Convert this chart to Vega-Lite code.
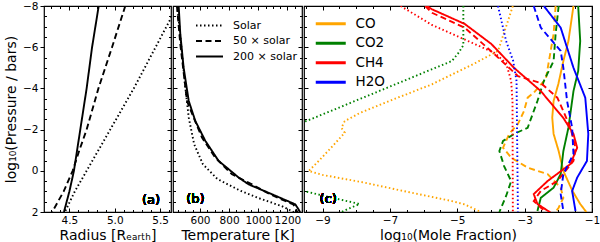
{
"$schema": "https://vega.github.io/schema/vega-lite/v6.json",
"padding": {"left": 3, "top": 0, "right": 0, "bottom": 0},
"spacing": 2,
"bounds": "flush",
"config": {
 "font": "DejaVu Sans",
 "view": {"stroke": "black", "strokeWidth": 1.2},
 "axis": {"domain": false, "grid": false, "tickColor": "black", "tickWidth": 1, "labelColor": "black", "labelFontSize": 10.5, "labelFont": "DejaVu Sans", "titleFont": "DejaVu Sans", "titleFontSize": 14, "titleFontWeight": "normal", "titleColor": "black", "labelFlush": false, "labelOverlap": false}
},
"resolve": {"scale": {"color": "independent", "strokeDash": "independent"}, "legend": {"color": "independent", "strokeDash": "independent"}},
"datasets": {
 "ra": [
  {"m":"200 × solar","P":-8,"R":4.823},{"m":"200 × solar","P":-6,"R":4.75},{"m":"200 × solar","P":-4,"R":4.69},{"m":"200 × solar","P":-2,"R":4.62},{"m":"200 × solar","P":-1,"R":4.585},{"m":"200 × solar","P":0,"R":4.55},{"m":"200 × solar","P":1,"R":4.5},{"m":"200 × solar","P":2,"R":4.44},
  {"m":"50 × solar","P":-8,"R":5.116},{"m":"50 × solar","P":-6,"R":4.97},{"m":"50 × solar","P":-4,"R":4.82},{"m":"50 × solar","P":-2,"R":4.69},{"m":"50 × solar","P":-1,"R":4.61},{"m":"50 × solar","P":0,"R":4.536},{"m":"50 × solar","P":1,"R":4.437},{"m":"50 × solar","P":2,"R":4.31},
  {"m":"Solar","P":-8,"R":5.69},{"m":"Solar","P":-6,"R":5.45},{"m":"Solar","P":-4,"R":5.21},{"m":"Solar","P":-2,"R":4.95},{"m":"Solar","P":-1,"R":4.82},{"m":"Solar","P":0,"R":4.69},{"m":"Solar","P":1,"R":4.56},{"m":"Solar","P":2,"R":4.45}
 ],
 "te": [
  {"m":"200 × solar","P":-8,"T":454},{"m":"200 × solar","P":-6.64,"T":465},{"m":"200 × solar","P":-5,"T":488},{"m":"200 × solar","P":-3.39,"T":523},{"m":"200 × solar","P":-2.42,"T":568},{"m":"200 × solar","P":-1.45,"T":637},{"m":"200 × solar","P":-0.48,"T":728},{"m":"200 × solar","P":0.33,"T":866},{"m":"200 × solar","P":0.66,"T":934},{"m":"200 × solar","P":1.14,"T":1095},{"m":"200 × solar","P":1.63,"T":1254},{"m":"200 × solar","P":1.87,"T":1276},{"m":"200 × solar","P":2.03,"T":1288},
  {"m":"50 × solar","P":-8,"T":442},{"m":"50 × solar","P":-6.16,"T":465},{"m":"50 × solar","P":-3.39,"T":511},{"m":"50 × solar","P":-2.58,"T":557},{"m":"50 × solar","P":-1.61,"T":614},{"m":"50 × solar","P":-0.64,"T":705},{"m":"50 × solar","P":0.17,"T":820},{"m":"50 × solar","P":0.66,"T":957},{"m":"50 × solar","P":1.14,"T":1080},{"m":"50 × solar","P":1.63,"T":1240},{"m":"50 × solar","P":2.03,"T":1270},
  {"m":"Solar","P":-8,"T":445},{"m":"Solar","P":-5.82,"T":475},{"m":"Solar","P":-4.21,"T":497},{"m":"Solar","P":-2.58,"T":523},{"m":"Solar","P":-1.29,"T":560},{"m":"Solar","P":-0.32,"T":620},{"m":"Solar","P":0.4,"T":720},{"m":"Solar","P":0.98,"T":880},{"m":"Solar","P":1.37,"T":1020},{"m":"Solar","P":1.71,"T":1160},{"m":"Solar","P":2.03,"T":1250}
 ],
 "mf": [
  {"s":"CO","m":"Solar","P":-8,"X":-3.35},{"s":"CO","m":"Solar","P":-7.0,"X":-3.55},{"s":"CO","m":"Solar","P":-5.82,"X":-3.79},{"s":"CO","m":"Solar","P":-5.2,"X":-4.5},{"s":"CO","m":"Solar","P":-4.2,"X":-5.75},{"s":"CO","m":"Solar","P":-3.4,"X":-7.0},{"s":"CO","m":"Solar","P":-2.8,"X":-7.9},{"s":"CO","m":"Solar","P":-2.41,"X":-8.34},{"s":"CO","m":"Solar","P":-2.09,"X":-8.44},{"s":"CO","m":"Solar","P":-1.85,"X":-8.34},{"s":"CO","m":"Solar","P":-1.2,"X":-8.7},{"s":"CO","m":"Solar","P":-0.5,"X":-9.1},{"s":"CO","m":"Solar","P":0.01,"X":-9.41},{"s":"CO","m":"Solar","P":0.2,"X":-9.0},{"s":"CO","m":"Solar","P":0.56,"X":-7.8},{"s":"CO","m":"Solar","P":0.97,"X":-6.63},{"s":"CO","m":"Solar","P":1.47,"X":-5.16},{"s":"CO","m":"Solar","P":1.63,"X":-4.78},{"s":"CO","m":"Solar","P":2.0,"X":-4.3},
  {"s":"CO","m":"50 × solar","P":-8,"X":-2.08},{"s":"CO","m":"50 × solar","P":-6.64,"X":-2.14},{"s":"CO","m":"50 × solar","P":-4.46,"X":-2.37},{"s":"CO","m":"50 × solar","P":-3.79,"X":-2.73},{"s":"CO","m":"50 × solar","P":-3.55,"X":-2.91},{"s":"CO","m":"50 × solar","P":-2.9,"X":-3.02},{"s":"CO","m":"50 × solar","P":-2.27,"X":-3.2},{"s":"CO","m":"50 × solar","P":-1.79,"X":-3.46},{"s":"CO","m":"50 × solar","P":-1.12,"X":-3.64},{"s":"CO","m":"50 × solar","P":-0.64,"X":-3.4},{"s":"CO","m":"50 × solar","P":-0.15,"X":-2.91},{"s":"CO","m":"50 × solar","P":0.16,"X":-2.32},{"s":"CO","m":"50 × solar","P":0.82,"X":-1.93},{"s":"CO","m":"50 × solar","P":1.31,"X":-1.85},{"s":"CO","m":"50 × solar","P":1.79,"X":-1.99},{"s":"CO","m":"50 × solar","P":2.0,"X":-2.08},
  {"s":"CO","m":"200 × solar","P":-8,"X":-1.55},{"s":"CO","m":"200 × solar","P":-6.3,"X":-1.7},{"s":"CO","m":"200 × solar","P":-5.33,"X":-1.85},{"s":"CO","m":"200 × solar","P":-4.21,"X":-2.0},{"s":"CO","m":"200 × solar","P":-3.39,"X":-2.14},{"s":"CO","m":"200 × solar","P":-2.58,"X":-2.18},{"s":"CO","m":"200 × solar","P":-1.79,"X":-2.14},{"s":"CO","m":"200 × solar","P":-0.96,"X":-1.99},{"s":"CO","m":"200 × solar","P":0.01,"X":-1.85},{"s":"CO","m":"200 × solar","P":0.98,"X":-1.58},{"s":"CO","m":"200 × solar","P":1.61,"X":-1.35},{"s":"CO","m":"200 × solar","P":2.0,"X":-1.17},
  {"s":"CO2","m":"Solar","P":-8,"X":-4.82},{"s":"CO2","m":"Solar","P":-6.1,"X":-4.82},{"s":"CO2","m":"Solar","P":-5.75,"X":-4.95},{"s":"CO2","m":"Solar","P":-5.33,"X":-5.16},{"s":"CO2","m":"Solar","P":-2.42,"X":-9.47},{"s":"CO2","m":"Solar","P":-2.2,"X":-9.9},{"s":"CO2","m":"Solar","P":0.8,"X":-9.9},{"s":"CO2","m":"Solar","P":0.98,"X":-9.56},{"s":"CO2","m":"Solar","P":1.32,"X":-8.68},{"s":"CO2","m":"Solar","P":1.61,"X":-7.9},{"s":"CO2","m":"Solar","P":1.85,"X":-8.24},{"s":"CO2","m":"Solar","P":2.04,"X":-8.48},
  {"s":"CO2","m":"50 × solar","P":-8,"X":-1.99},{"s":"CO2","m":"50 × solar","P":-6.64,"X":-2.08},{"s":"CO2","m":"50 × solar","P":-5.33,"X":-2.14},{"s":"CO2","m":"50 × solar","P":-4.36,"X":-2.43},{"s":"CO2","m":"50 × solar","P":-3.39,"X":-2.62},{"s":"CO2","m":"50 × solar","P":-2.09,"X":-2.91},{"s":"CO2","m":"50 × solar","P":-1.79,"X":-3.31},{"s":"CO2","m":"50 × solar","P":-1.45,"X":-3.64},{"s":"CO2","m":"50 × solar","P":-0.96,"X":-3.75},{"s":"CO2","m":"50 × solar","P":-0.23,"X":-3.61},{"s":"CO2","m":"50 × solar","P":0.5,"X":-3.4},{"s":"CO2","m":"50 × solar","P":1.22,"X":-3.55},{"s":"CO2","m":"50 × solar","P":2.0,"X":-3.75},
  {"s":"CO2","m":"200 × solar","P":-8,"X":-1.41},{"s":"CO2","m":"200 × solar","P":-6.3,"X":-1.35},{"s":"CO2","m":"200 × solar","P":-4.84,"X":-1.41},{"s":"CO2","m":"200 × solar","P":-3.87,"X":-1.55},{"s":"CO2","m":"200 × solar","P":-2.09,"X":-1.7},{"s":"CO2","m":"200 × solar","P":-0.96,"X":-1.85},{"s":"CO2","m":"200 × solar","P":0.16,"X":-1.93},{"s":"CO2","m":"200 × solar","P":0.82,"X":-2.14},{"s":"CO2","m":"200 × solar","P":1.31,"X":-2.52},{"s":"CO2","m":"200 × solar","P":1.95,"X":-2.62},
  {"s":"CH4","m":"Solar","P":-8,"X":-6.68},{"s":"CH4","m":"Solar","P":-7.08,"X":-5.75},{"s":"CH4","m":"Solar","P":-5.73,"X":-3.9},{"s":"CH4","m":"Solar","P":-5.23,"X":-3.55},{"s":"CH4","m":"Solar","P":-4.36,"X":-3.4},{"s":"CH4","m":"Solar","P":-3.39,"X":-3.36},{"s":"CH4","m":"Solar","P":2,"X":-3.35},
  {"s":"CH4","m":"50 × solar","P":-8,"X":-5.95},{"s":"CH4","m":"50 × solar","P":-7.67,"X":-5.75},{"s":"CH4","m":"50 × solar","P":-6.95,"X":-4.78},{"s":"CH4","m":"50 × solar","P":-5.67,"X":-3.9},{"s":"CH4","m":"50 × solar","P":-4.6,"X":-3.2},{"s":"CH4","m":"50 × solar","P":-4.26,"X":-2.52},{"s":"CH4","m":"50 × solar","P":-3.55,"X":-2.03},{"s":"CH4","m":"50 × solar","P":-2.9,"X":-1.85},{"s":"CH4","m":"50 × solar","P":-2.09,"X":-1.64},{"s":"CH4","m":"50 × solar","P":-1.12,"X":-1.49},{"s":"CH4","m":"50 × solar","P":-0.48,"X":-1.55},{"s":"CH4","m":"50 × solar","P":0.5,"X":-2.03},{"s":"CH4","m":"50 × solar","P":0.98,"X":-2.52},{"s":"CH4","m":"50 × solar","P":1.47,"X":-2.73},{"s":"CH4","m":"50 × solar","P":2.0,"X":-2.37},
  {"s":"CH4","m":"200 × solar","P":-8,"X":-5.9},{"s":"CH4","m":"200 × solar","P":-7.84,"X":-5.75},{"s":"CH4","m":"200 × solar","P":-7.13,"X":-4.78},{"s":"CH4","m":"200 × solar","P":-6.16,"X":-3.99},{"s":"CH4","m":"200 × solar","P":-4.99,"X":-3.31},{"s":"CH4","m":"200 × solar","P":-3.87,"X":-2.52},{"s":"CH4","m":"200 × solar","P":-2.56,"X":-1.85},{"s":"CH4","m":"200 × solar","P":-1.79,"X":-1.55},{"s":"CH4","m":"200 × solar","P":-1.12,"X":-1.44},{"s":"CH4","m":"200 × solar","P":-0.33,"X":-1.64},{"s":"CH4","m":"200 × solar","P":0.5,"X":-2.32},{"s":"CH4","m":"200 × solar","P":1.13,"X":-2.73},{"s":"CH4","m":"200 × solar","P":1.61,"X":-2.62},{"s":"CH4","m":"200 × solar","P":2.03,"X":-2.23},
  {"s":"H2O","m":"Solar","P":-8,"X":-3.79},{"s":"H2O","m":"Solar","P":-6.3,"X":-3.55},{"s":"H2O","m":"Solar","P":-5.33,"X":-3.34},{"s":"H2O","m":"Solar","P":-4.36,"X":-3.24},{"s":"H2O","m":"Solar","P":2,"X":-3.2},
  {"s":"H2O","m":"50 × solar","P":-8,"X":-2.73},{"s":"H2O","m":"50 × solar","P":-6.95,"X":-2.52},{"s":"H2O","m":"50 × solar","P":-5.82,"X":-1.93},{"s":"H2O","m":"50 × solar","P":-5.0,"X":-1.85},{"s":"H2O","m":"50 × solar","P":-3.39,"X":-1.74},{"s":"H2O","m":"50 × solar","P":-2.09,"X":-1.59},{"s":"H2O","m":"50 × solar","P":-0.82,"X":-1.55},{"s":"H2O","m":"50 × solar","P":0.16,"X":-1.85},{"s":"H2O","m":"50 × solar","P":1.13,"X":-1.93},{"s":"H2O","m":"50 × solar","P":1.95,"X":-1.85},
  {"s":"H2O","m":"200 × solar","P":-8,"X":-2.43},{"s":"H2O","m":"200 × solar","P":-6.95,"X":-1.93},{"s":"H2O","m":"200 × solar","P":-5.0,"X":-1.55},{"s":"H2O","m":"200 × solar","P":-3.55,"X":-1.2},{"s":"H2O","m":"200 × solar","P":-1.79,"X":-1.11},{"s":"H2O","m":"200 × solar","P":-0.48,"X":-1.15},{"s":"H2O","m":"200 × solar","P":0.33,"X":-1.44},{"s":"H2O","m":"200 × solar","P":0.98,"X":-1.59},{"s":"H2O","m":"200 × solar","P":1.95,"X":-1.49}
 ]
},
"hconcat": [
 {
  "width": 127, "height": 206,
  "data": {"name": "ra"},
  "layer": [
   {"mark": {"type": "line", "clip": true, "color": "black", "strokeWidth": 1.9},
    "encoding": {
     "x": {"field": "R", "type": "quantitative", "scale": {"domain": [4.22, 5.62], "nice": false, "zero": false},
       "axis": {"orient": "bottom", "title": "Radius [Rₑₐᵣₜₕ]", "values": [4.3,4.4,4.5,4.6,4.7,4.8,4.9,5.0,5.1,5.2,5.3,5.4,5.5,5.6], "labelExpr": "abs(datum.value*2 - round(datum.value*2)) < 0.001 ? format(datum.value, '.1f') : ''", "tickSize": {"condition": {"test": "abs(datum.value*2 - round(datum.value*2)) < 0.001", "value": -4}, "value": -2.5}, "labelPadding": 7, "titlePadding": 1}},
     "y": {"field": "P", "type": "quantitative", "scale": {"domain": [-8, 2], "reverse": true, "nice": false, "zero": false},
       "axis": {"orient": "left", "title": "log₁₀(Pressure / bars)", "values": [-8,-7.5,-7,-6.5,-6,-5.5,-5,-4.5,-4,-3.5,-3,-2.5,-2,-1.5,-1,-0.5,0,0.5,1,1.5,2], "labelExpr": "datum.value % 2 == 0 ? format(datum.value, 'd') : ''", "tickSize": {"condition": {"test": "datum.value % 2 == 0", "value": 4}, "value": -2.5}, "labelPadding": 2, "titlePadding": 4}},
     "strokeDash": {"field": "m", "type": "nominal", "scale": {"domain": ["Solar", "50 × solar", "200 × solar"], "range": [[1.5, 2.5], [6, 3.5], [1, 0]]}, "legend": null},
     "order": {"field": "P", "type": "quantitative"}
    }},
   {"mark": {"type": "point", "opacity": 0, "size": 0, "clip": true},
    "encoding": {
     "x": {"field": "R", "type": "quantitative", "axis": {"orient": "top", "title": null, "labels": false, "minExtent": 0, "maxExtent": 0, "values": [4.3,4.4,4.5,4.6,4.7,4.8,4.9,5.0,5.1,5.2,5.3,5.4,5.5,5.6], "tickSize": {"condition": {"test": "abs(datum.value*2 - round(datum.value*2)) < 0.001", "value": -4}, "value": -2.5}}},
     "y": {"field": "P", "type": "quantitative", "axis": {"orient": "right", "title": null, "labels": false, "minExtent": 0, "maxExtent": 0, "values": [-8,-7.5,-7,-6.5,-6,-5.5,-5,-4.5,-4,-3.5,-3,-2.5,-2,-1.5,-1,-0.5,0,0.5,1,1.5,2], "tickSize": {"condition": {"test": "datum.value % 2 == 0", "value": -4}, "value": -2.5}}}
    }},
   {"mark": {"type": "text", "fontSize": 13, "color": "black", "font": "DejaVu Sans"},
    "encoding": {"x": {"datum": 5.40, "type": "quantitative", "axis": null}, "y": {"datum": 1.42, "type": "quantitative", "axis": null}, "text": {"value": "(a)"}}}
  ],
  "resolve": {"axis": {"x": "independent", "y": "independent"}}
 },
 {
  "width": 129, "height": 206,
  "data": {"name": "te"},
  "layer": [
   {"mark": {"type": "line", "clip": true, "color": "black", "strokeWidth": 1.9},
    "encoding": {
     "x": {"field": "T", "type": "quantitative", "scale": {"domain": [415, 1300], "nice": false, "zero": false},
       "axis": {"orient": "bottom", "title": "Temperature [K]", "values": [450,500,550,600,650,700,750,800,850,900,950,1000,1050,1100,1150,1200,1250,1300], "labelExpr": "datum.value % 200 == 0 ? format(datum.value, 'd') : ''", "tickSize": {"condition": {"test": "datum.value % 200 == 0", "value": -4}, "value": -2.5}, "labelPadding": 7, "titlePadding": 1}},
     "y": {"field": "P", "type": "quantitative", "scale": {"domain": [-8, 2], "reverse": true, "nice": false, "zero": false},
       "axis": {"orient": "left", "title": null, "labels": false, "minExtent": 0, "maxExtent": 0, "values": [-8,-7.5,-7,-6.5,-6,-5.5,-5,-4.5,-4,-3.5,-3,-2.5,-2,-1.5,-1,-0.5,0,0.5,1,1.5,2], "tickSize": {"condition": {"test": "datum.value % 2 == 0", "value": -4}, "value": -2.5}}},
     "strokeDash": {"field": "m", "type": "nominal", "scale": {"domain": ["Solar", "50 × solar", "200 × solar"], "range": [[1.5, 2.5], [6, 3.5], [1, 0]]},
       "legend": {"orient": "none", "legendX": 31, "legendY": 14, "title": null, "symbolType": "M-3,0H3", "symbolSize": 81, "symbolStrokeColor": "black", "symbolStrokeWidth": 1.9, "labelFontSize": 11, "labelFont": "DejaVu Sans", "labelColor": "black", "labelOffset": 18, "rowPadding": 3.5}},
     "order": {"field": "P", "type": "quantitative"}
    }},
   {"mark": {"type": "point", "opacity": 0, "size": 0, "clip": true},
    "encoding": {
     "x": {"field": "T", "type": "quantitative", "axis": {"orient": "top", "title": null, "labels": false, "minExtent": 0, "maxExtent": 0, "values": [450,500,550,600,650,700,750,800,850,900,950,1000,1050,1100,1150,1200,1250,1300], "tickSize": {"condition": {"test": "datum.value % 200 == 0", "value": -4}, "value": -2.5}}},
     "y": {"field": "P", "type": "quantitative", "axis": {"orient": "right", "title": null, "labels": false, "minExtent": 0, "maxExtent": 0, "values": [-8,-7.5,-7,-6.5,-6,-5.5,-5,-4.5,-4,-3.5,-3,-2.5,-2,-1.5,-1,-0.5,0,0.5,1,1.5,2], "tickSize": {"condition": {"test": "datum.value % 2 == 0", "value": -4}, "value": -2.5}}}
    }},
   {"mark": {"type": "text", "fontSize": 13, "color": "black", "font": "DejaVu Sans"},
    "encoding": {"x": {"datum": 569, "type": "quantitative", "axis": null}, "y": {"datum": 1.39, "type": "quantitative", "axis": null}, "text": {"value": "(b)"}}}
  ],
  "resolve": {"axis": {"x": "independent", "y": "independent"}}
 },
 {
  "width": 288, "height": 206,
  "data": {"name": "mf"},
  "layer": [
   {"mark": {"type": "line", "clip": true, "strokeWidth": 1.9},
    "encoding": {
     "x": {"field": "X", "type": "quantitative", "scale": {"domain": [-9.55, -1], "nice": false, "zero": false},
       "axis": {"orient": "bottom", "title": "log₁₀(Mole Fraction)", "values": [-9.5,-9,-8.5,-8,-7.5,-7,-6.5,-6,-5.5,-5,-4.5,-4,-3.5,-3,-2.5,-2,-1.5,-1], "labelExpr": "datum.value % 2 == -1 ? format(datum.value, 'd') : ''", "tickSize": {"condition": {"test": "datum.value % 2 == -1", "value": -4}, "value": -2.5}, "labelPadding": 7, "titlePadding": 1}},
     "y": {"field": "P", "type": "quantitative", "scale": {"domain": [-8, 2], "reverse": true, "nice": false, "zero": false},
       "axis": {"orient": "left", "title": null, "labels": false, "minExtent": 0, "maxExtent": 0, "values": [-8,-7.5,-7,-6.5,-6,-5.5,-5,-4.5,-4,-3.5,-3,-2.5,-2,-1.5,-1,-0.5,0,0.5,1,1.5,2], "tickSize": {"condition": {"test": "datum.value % 2 == 0", "value": -4}, "value": -2.5}}},
     "color": {"field": "s", "type": "nominal", "scale": {"domain": ["CO", "CO2", "CH4", "H2O"], "range": ["#FFA500", "#008000", "#FF0000", "#0000FF"]},
       "legend": {"orient": "none", "legendX": 20, "legendY": 11, "title": null, "symbolType": "M-3,0H3", "symbolSize": 100, "symbolStrokeWidth": 3, "labelFontSize": 13.5, "labelFont": "DejaVu Sans", "labelColor": "black", "labelOffset": 18, "rowPadding": 4.5}},
     "strokeDash": {"field": "m", "type": "nominal", "scale": {"domain": ["Solar", "50 × solar", "200 × solar"], "range": [[1.5, 2.5], [6, 3.5], [1, 0]]}, "legend": null},
     "order": {"field": "P", "type": "quantitative"}
    }},
   {"mark": {"type": "point", "opacity": 0, "size": 0, "clip": true},
    "encoding": {
     "x": {"field": "X", "type": "quantitative", "axis": {"orient": "top", "title": null, "labels": false, "minExtent": 0, "maxExtent": 0, "values": [-9.5,-9,-8.5,-8,-7.5,-7,-6.5,-6,-5.5,-5,-4.5,-4,-3.5,-3,-2.5,-2,-1.5,-1], "tickSize": {"condition": {"test": "datum.value % 2 == -1", "value": -4}, "value": -2.5}}},
     "y": {"field": "P", "type": "quantitative", "axis": {"orient": "right", "title": null, "labels": false, "minExtent": 0, "maxExtent": 0, "values": [-8,-7.5,-7,-6.5,-6,-5.5,-5,-4.5,-4,-3.5,-3,-2.5,-2,-1.5,-1,-0.5,0,0.5,1,1.5,2], "tickSize": {"condition": {"test": "datum.value % 2 == 0", "value": -4}, "value": -2.5}}}
    }},
   {"mark": {"type": "text", "fontSize": 13, "color": "black", "font": "DejaVu Sans"},
    "encoding": {"x": {"datum": -8.83, "type": "quantitative", "axis": null}, "y": {"datum": 1.35, "type": "quantitative", "axis": null}, "text": {"value": "(c)"}}}
  ],
  "resolve": {"axis": {"x": "independent", "y": "independent"}}
 }
]
}
